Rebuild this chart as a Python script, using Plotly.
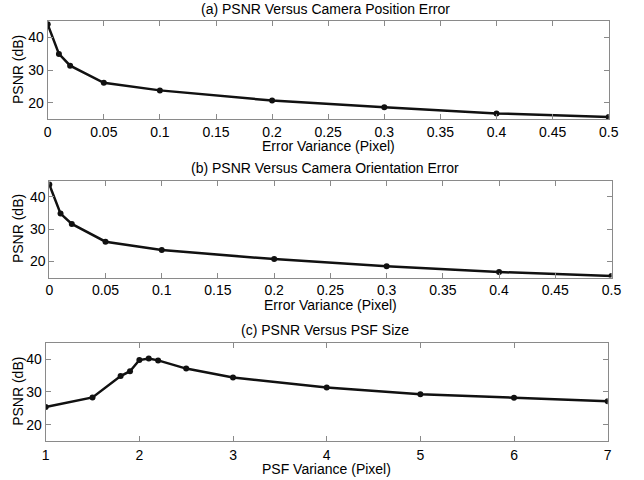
import plotly.graph_objects as go

# Data
err_var = [0, 0.01, 0.02, 0.05, 0.1, 0.2, 0.3, 0.4, 0.5]
psnr_pos = [43.9, 34.9, 31.3, 26.1, 23.8, 20.7, 18.7, 16.8, 15.7]
psnr_ori = [43.8, 34.8, 31.6, 26.1, 23.5, 20.7, 18.5, 16.7, 15.5]
psf_var = [1, 1.5, 1.8, 1.9, 2, 2.1, 2.2, 2.5, 3, 4, 5, 6, 7]
psnr_psf = [25.4, 28.3, 34.8, 36.3, 39.7, 40.2, 39.6, 37.1, 34.4, 31.3, 29.3, 28.2, 27.1]

titles = ["(a) PSNR Versus Camera Position Error",
          "(b) PSNR Versus Camera Orientation Error",
          "(c) PSNR Versus PSF Size"]
xtitles = ["Error Variance (Pixel)", "Error Variance (Pixel)", "PSF Variance (Pixel)"]
ytitle = "PSNR (dB)"
err_ticks = [0, 0.05, 0.1, 0.15, 0.2, 0.25, 0.3, 0.35, 0.4, 0.45, 0.5]
err_ticktext = ["0", "0.05", "0.1", "0.15", "0.2", "0.25", "0.3", "0.35", "0.4", "0.45", "0.5"]
psf_ticks = [1, 2, 3, 4, 5, 6, 7]
y_ticks = [20, 30, 40]

W, H = 644, 480
FONT = "Liberation Sans, Arial, sans-serif"

fig = go.Figure()
series = [(err_var, psnr_pos), (err_var, psnr_ori), (psf_var, psnr_psf)]
for i, (xs, ys) in enumerate(series):
    sfx = "" if i == 0 else str(i + 1)
    fig.add_trace(go.Scatter(x=xs, y=ys, mode="lines+markers",
                             line=dict(color="#111111", width=2.5),
                             marker=dict(color="#111111", size=6),
                             xaxis="x" + sfx, yaxis="y" + sfx, showlegend=False))

# pixel geometry of plot boxes (left, right, top, bottom)
boxes = [(47.7, 608.7, 20.7, 119.3), (49.3, 611.5, 180.7, 277.5), (45.7, 607.7, 342.7, 441.0)]
xranges = [[0, 0.5], [0, 0.5], [1, 7]]
title_y = [9, 168, 330]
xtitle_y = [146, 305, 469]
standoffs = [0, 0, 1]

axis_common = dict(showline=True, linecolor="#8a8a8a", linewidth=1, mirror="ticks",
                   ticks="inside", ticklen=5, tickcolor="#8a8a8a", showgrid=False,
                   zeroline=False, automargin=False,
                   tickfont=dict(family=FONT, size=14, color="black"))

annotations = []
for i, (l, r, t, b) in enumerate(boxes):
    sfx = "" if i == 0 else str(i + 1)
    xa = dict(axis_common, domain=[l / W, r / W], range=xranges[i], anchor="y" + sfx,
              ticklabelstandoff=standoffs[i])
    if i < 2:
        xa.update(tickvals=err_ticks, ticktext=err_ticktext)
    else:
        xa.update(tickvals=psf_ticks)
    ya = dict(axis_common, domain=[1 - b / H, 1 - t / H], range=[15, 45],
              tickvals=y_ticks, anchor="x" + sfx)
    fig.update_layout(**{"xaxis" + sfx: xa, "yaxis" + sfx: ya})
    annotations.append(dict(text=titles[i], x=325 / W, y=1 - title_y[i] / H,
                            xref="paper", yref="paper", showarrow=False,
                            xanchor="center", yanchor="middle",
                            font=dict(family=FONT, size=14, color="black")))
    annotations.append(dict(text=xtitles[i], x=((l + r) / 2) / W, y=1 - xtitle_y[i] / H,
                            xref="paper", yref="paper", showarrow=False,
                            xanchor="center", yanchor="middle",
                            font=dict(family=FONT, size=14, color="black")))
    annotations.append(dict(text=ytitle, x=18 / W, y=1 - ((t + b) / 2) / H,
                            xref="paper", yref="paper", showarrow=False, textangle=-90,
                            xanchor="center", yanchor="middle",
                            font=dict(family=FONT, size=14, color="black")))

fig.update_layout(width=W, height=H, autosize=False, margin=dict(l=0, r=0, t=0, b=0, pad=0),
                  paper_bgcolor="white", plot_bgcolor="white",
                  annotations=annotations)

fig.write_html("out.html",
               config={"responsive": False, "displayModeBar": False},
               post_script="document.body.style.margin='0';document.body.style.overflow='hidden';")
